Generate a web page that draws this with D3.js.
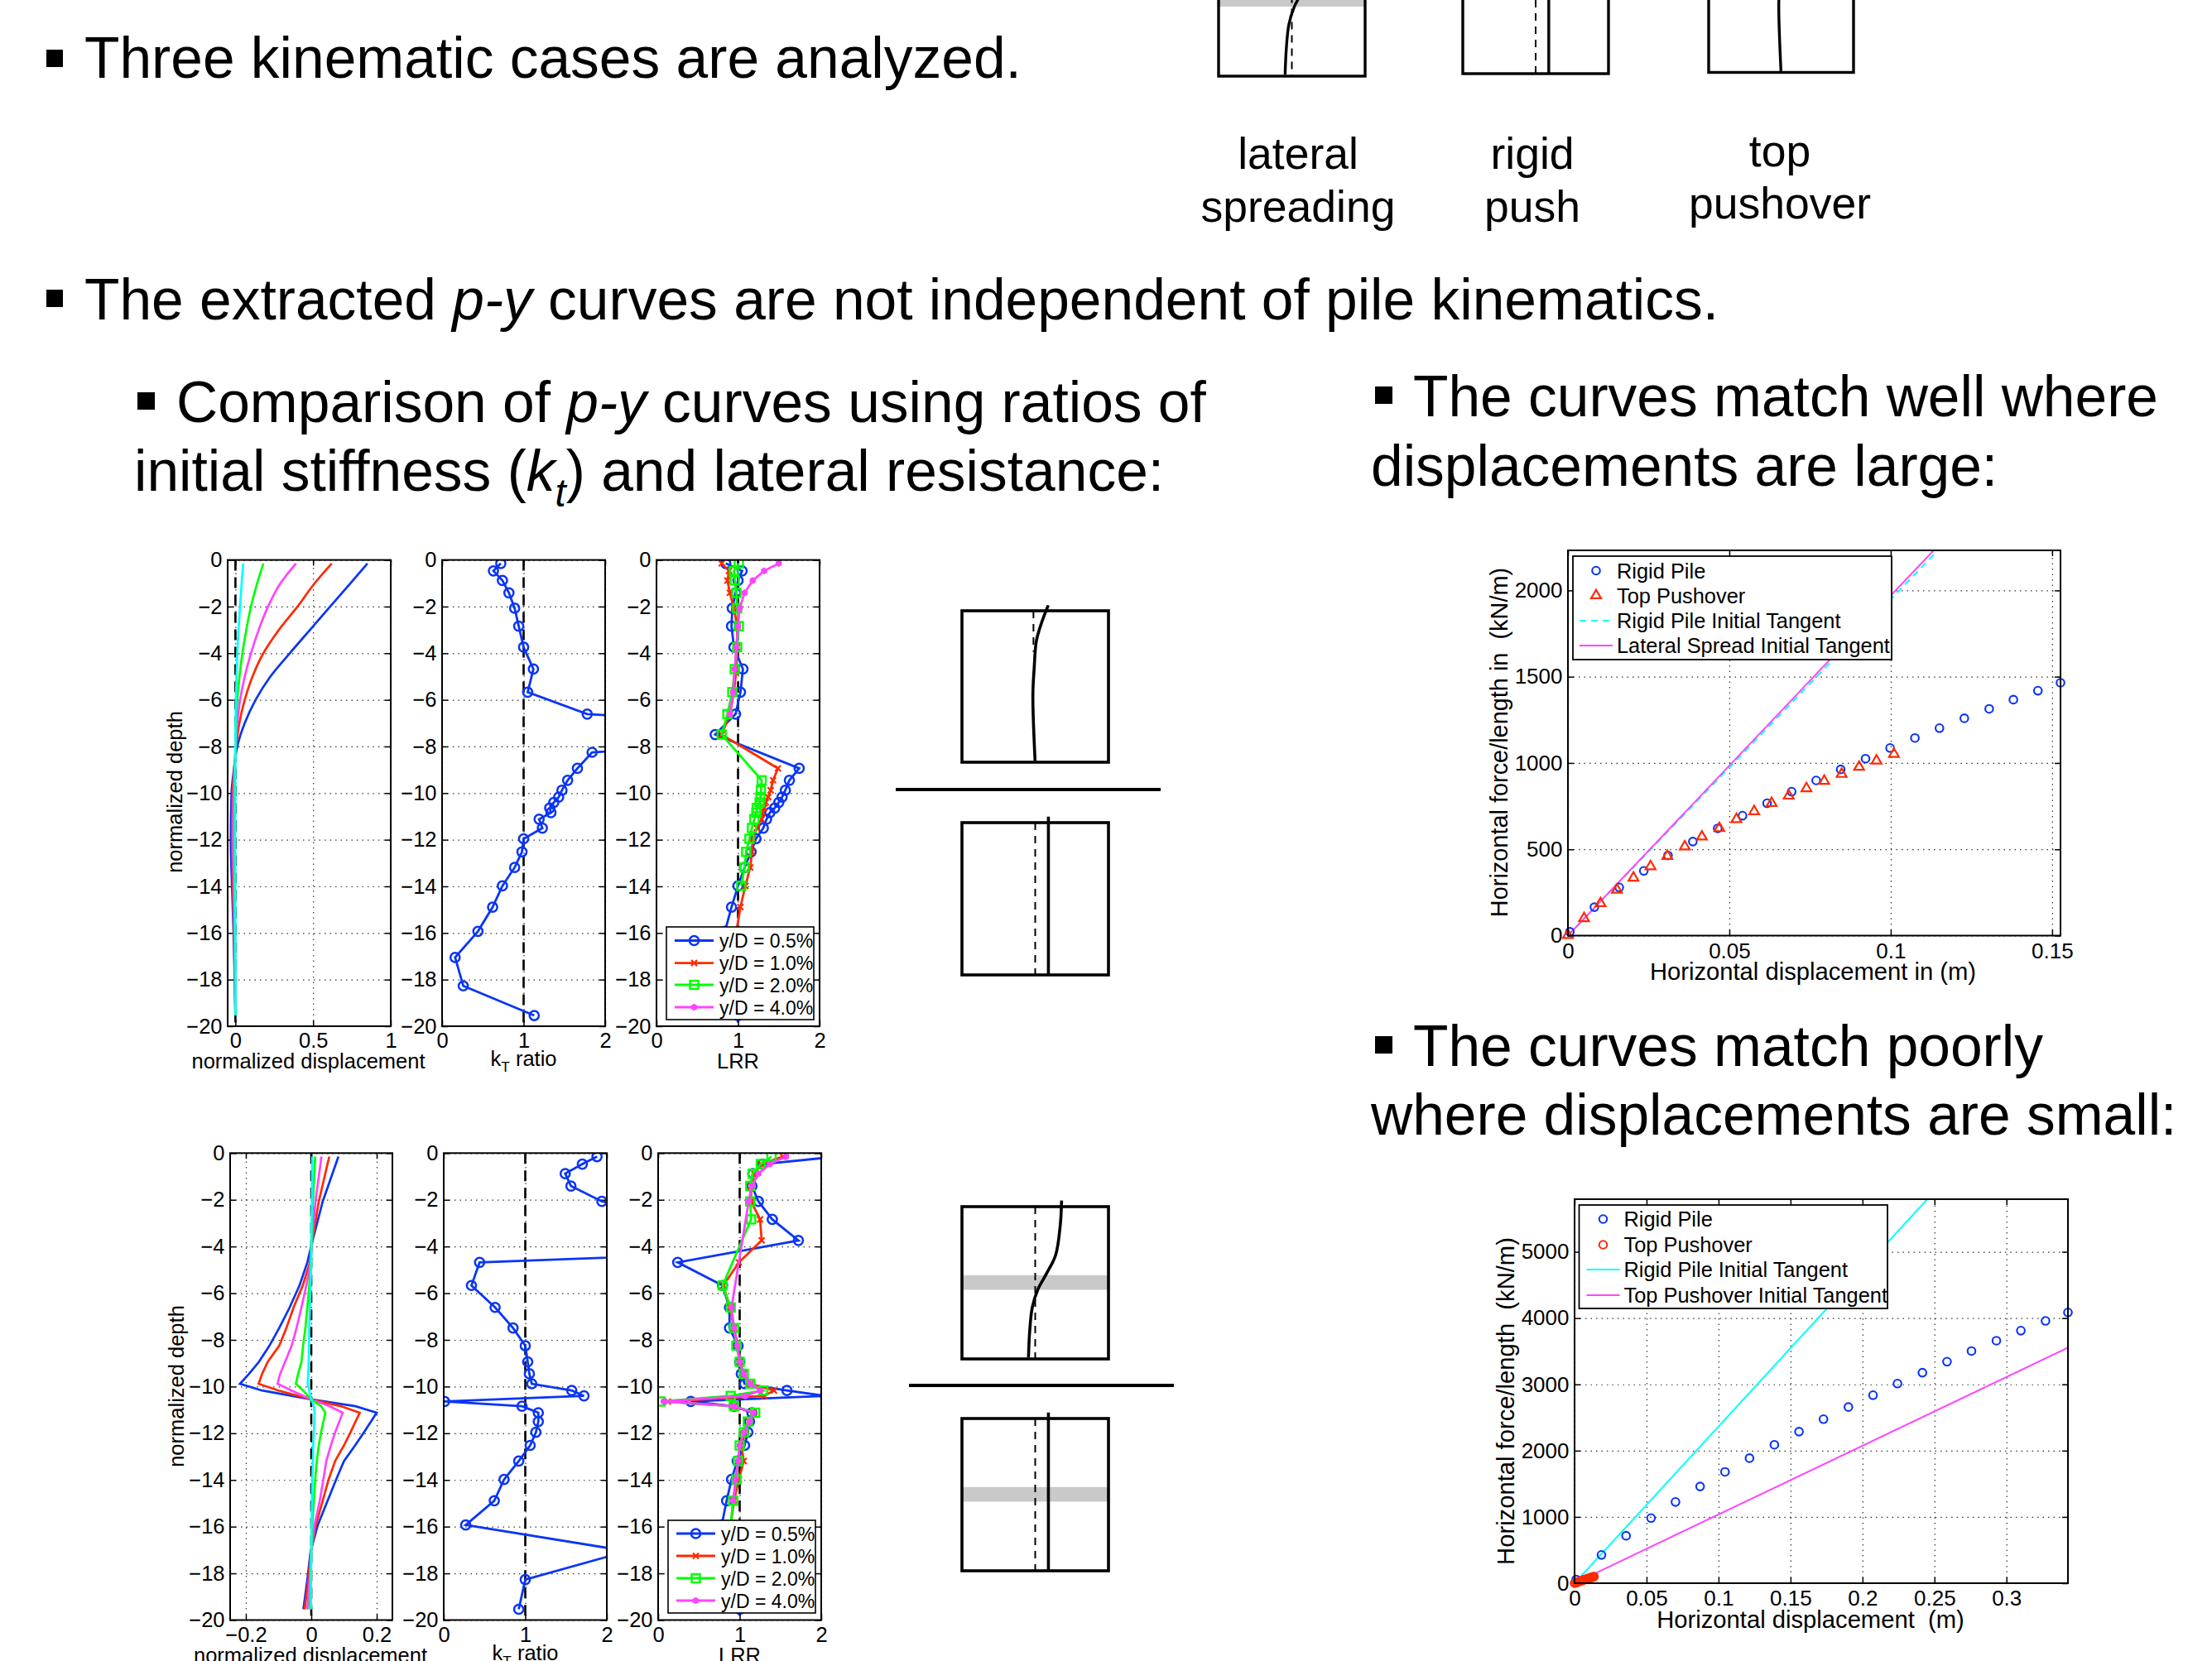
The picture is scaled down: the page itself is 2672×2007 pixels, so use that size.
<!DOCTYPE html>
<html><head><meta charset="utf-8">
<script src="https://d3js.org/d3.v7.min.js"></script>
<style>
html,body{margin:0;padding:0;background:#fff}
svg{display:block}
text{font-family:"Liberation Sans",Arial,sans-serif;fill:#000;white-space:pre}
</style></head><body>
<svg id="c" width="2672" height="2007"></svg>
<script>
// ---------- DATA ----------
const levels=[.15,.47,.88,1.41,2.07,2.84,3.74,4.68,5.67,6.61,7.49,8.25,8.94,9.45,9.88,10.17,10.4,10.64,10.84,11.12,11.5,11.96,12.52,13.19,13.98,14.89,15.93,17.05,18.27,19.54];
const N=null;
const kt1=[.72,.63,.74,.82,.89,.94,1.0,1.12,1.05,1.78,6,1.84,1.66,1.54,1.47,1.43,1.37,1.32,1.335,1.19,1.23,1.0,.98,.89,.74,.62,.44,.16,.26,1.13];
const kt2=[1.88,1.70,1.49,1.56,1.94,3,7.8,.44,.34,.63,.85,1.0,1.03,1.05,1.08,1.57,1.72,.01,.96,1.16,1.16,1.13,1.06,.92,.74,.62,.27,2.25,1.0,.92];
const lrr1Blue=[.85,1.05,1.0,.97,.93,.92,.95,1.06,1.03,.97,.72,N,1.75,1.63,1.58,1.54,1.50,1.45,1.39,1.35,1.31,1.22,1.16,1.08,1.0,.92,.84,.8,.9,1.0];
const lrr1Red=[.80,.89,.87,.90,.95,.99,.99,.98,.95,.90,.80,N,1.49,1.43,1.40,1.37,1.34,1.32,1.30,1.29,1.23,1.18,1.17,1.15,1.09,1.03,.98,1,1,1];
const lrr1Green=[1.01,.95,.96,.98,.99,1.01,.99,.96,.93,.87,.80,N,N,1.29,1.28,1.275,1.265,1.23,1.225,1.20,1.17,1.14,1.10,1.08,1.04,N,N,N,N,N];
const lrr1Mag=[1.50,1.32,1.18,1.08,1.02,1.0,.98,.96,.94,.90,N,N,N,N,N,N,N,N,N,N,N,N,N,N,N,N,N,N,N,N];
const lrr2Blue=[2.2,1.28,1.16,1.15,1.23,1.40,1.72,.24,.79,.875,.875,.98,1.0,1.02,1.06,1.58,2.05,.40,.93,1.15,1.12,1.10,1.06,.97,.90,.84,.78,.8,.9,1.0];
const lrr2Red=[1.53,1.26,1.18,1.14,1.14,1.25,1.27,.99,.80,.88,.93,.98,1.0,1.05,1.13,1.42,1.30,.12,.93,1.17,1.11,1.07,1.02,1.05,.99,.93,.89,N,N,N];
const lrr2Green=[1.39,1.26,1.16,1.13,1.13,1.14,N,N,.79,.89,.93,.96,1.0,1.05,1.13,1.29,.89,.03,.93,1.19,1.10,1.05,1.0,.98,.96,.92,.89,N,N,N];
const lrr2Mag=[1.57,1.37,1.23,1.15,1.11,N,N,N,N,.9,.93,.97,1.0,1.05,1.13,1.25,1.07,.07,.93,1.17,1.12,1.05,1.0,.98,.95,.92,N,N,N,N];

const disp1Depth=[.15,1,2,3,4,5,6,7,8,9,10,12,14,16,18,19.54];
const d1Blue=[.85,.74,.61,.48,.35,.225,.13,.06,.012,-.01,-.025,-.03,-.022,-.012,-.005,0];
const d1Red=[.62,.51,.40,.28,.18,.11,.06,.025,.005,-.008,-.018,-.022,-.016,-.009,-.003,0];
const d1Mag=[.39,.29,.21,.15,.10,.06,.03,.012,.002,-.006,-.012,-.015,-.011,-.006,-.002,0];
const d1Green=[.18,.14,.10,.07,.045,.026,.012,.004,0,-.003,-.006,-.007,-.005,-.003,-.001,0];
const d1Cyan=[.05,.04,.03,.02,.012,.007,.003,.001,0,-.001,-.001,-.002,-.001,-.001,0,0];

const disp2Depth=[.15,2.07,3.74,4.68,5.67,6.61,7.49,8.25,8.94,9.45,9.88,10.17,10.55,10.84,11.12,11.96,12.52,13.19,13.98,14.89,15.93,17.05,18.27,19.54];
const d2Blue=[.083,.035,.004,-.012,-.036,-.066,-.098,-.128,-.16,-.19,-.218,-.15,0,.135,.2,.161,.134,.10,.076,.05,.02,-.002,-.012,-.024];
const d2Red=[.055,.023,.003,-.004,-.026,-.054,-.076,-.098,-.133,-.15,-.161,-.10,0,.09,.148,.12,.10,.073,.053,.035,.014,-.001,-.009,-.02];
const d2Mag=[.031,.013,.002,-.002,-.015,-.03,-.045,-.06,-.08,-.095,-.103,-.06,0,.055,.096,.073,.06,.046,.037,.026,.01,0,-.005,-.012];
const d2Green=[.012,.005,.001,-.001,-.006,-.012,-.018,-.025,-.03,-.04,-.047,-.025,0,.03,.043,.03,.023,.017,.012,.008,.003,0,-.002,-.005];
const d2Cyan=[.003,.002,0,0,-.002,-.004,-.006,-.007,-.008,-.009,-.011,-.006,0,.008,.01,.008,.006,.005,.003,.002,.001,0,-.001,-.001];

const rigidX=[.0006,.0082,.0159,.0235,.031,.0387,.0464,.0541,.0617,.0693,.0769,.0845,.0922,.0998,.1075,.1151,.1228,.1305,.138,.1456,.1526];
const rigidY=[22,165,279,375,464,545,621,695,767,834,899,963,1025,1087,1145,1202,1259,1314,1367,1419,1465];
const topX=[0,.005,.0101,.0152,.0203,.0256,.0308,.0362,.0415,.0469,.0522,.0577,.0631,.0684,.0739,.0794,.0848,.0902,.0956,.101];
const topY=[3,100,187,265,335,401,461,516,573,622,674,720,767,810,853,896,936,977,1013,1052];
const tanCyanX=[0,.1146],tanCyanY=[0,2232],tanMagX=[0,.1133],tanMagY=[0,2232];

const rigid2X=[.0011,.0187,.0358,.0531,.0701,.0872,.1045,.1215,.1388,.1559,.1729,.1902,.2073,.2243,.2416,.2587,.2757,.293,.31,.3271,.3427];
const rigid2Y=[55,427,716,983,1226,1460,1680,1887,2089,2287,2475,2658,2837,3012,3177,3343,3503,3659,3811,3958,4086];
const top2X=[0,.001,.002,.003,.004,.005,.006,.007,.008,.009,.01,.011,.012,.0125,.013,.0135];
const top2Y=[0,8,16,24,32,40,48,55,62,69,76,83,90,94,97,100];
const tan2CyanX=[0,.245],tan2CyanY=[0,5794],tan2MagX=[0,.3427],tan2MagY=[0,3553];

const depthTicks=[0,-2,-4,-6,-8,-10,-12,-14,-16,-18,-20];
const seriesLabels=["y/D = 0.5%","y/D = 1.0%","y/D = 2.0%","y/D = 4.0%"];
const pileSpreadX=[.68,.671,.639,.574,.518,.48,.462,.454], pileSpreadY=[-.04,.12,.319,.445,.544,.661,.823,.99];
const pileTopX=[.589,.546,.508,.493,.484,.499], pileTopY=[-.036,.072,.198,.378,.559,.991];

const BLUE="#0a35f5",RED="#ff2a00",GREEN="#00ff00",MAG="#ff44ff",CYAN="#00ffff";
// ---------- HELPERS ----------
const svg=d3.select("#c");
let clipId=0;
function frame(box,xd,yd,xticks,yticks,fs,fmtX,xgap){
  const g=svg.append("g");
  const x=d3.scaleLinear().domain(xd).range([box.x0,box.x1]);
  const y=d3.scaleLinear().domain(yd).range([box.y1,box.y0]);
  const w=box.x1-box.x0,h=box.y1-box.y0;
  const gx=g.append("g").attr("transform",`translate(0,${box.y1})`)
    .call(d3.axisBottom(x).tickValues(xticks).tickSize(-h).tickFormat(""));
  const gy=g.append("g").attr("transform",`translate(${box.x0},0)`)
    .call(d3.axisLeft(y).tickValues(yticks).tickSize(-w).tickFormat(""));
  [gx,gy].forEach(a=>{a.select(".domain").remove();
    a.selectAll("line").attr("stroke","#333").attr("stroke-width",1.2).attr("stroke-dasharray","1.5 5");});
  const sz=7;
  const ax=[d3.axisBottom(x).tickValues(xticks).tickSize(-sz).tickPadding(sz+xgap).tickFormat(fmtX||(d=>String(d))),
    d3.axisTop(x).tickValues(xticks).tickSize(-sz).tickFormat("")];
  const ay=[d3.axisLeft(y).tickValues(yticks).tickSize(-sz).tickPadding(6.5).tickFormat(d=>d<0?"\u2212"+(-d):String(d)),
    d3.axisRight(y).tickValues(yticks).tickSize(-sz).tickFormat("")];
  const mk=(a,t)=>{const s=g.append("g").attr("transform",t).call(a);
    s.select(".domain").remove();s.selectAll("line").attr("stroke","#000").attr("stroke-width",1.5);
    s.selectAll("text").attr("font-size",fs).style("font-family",'"Liberation Sans"').attr("fill","#000");};
  mk(ax[0],`translate(0,${box.y1})`);mk(ax[1],`translate(0,${box.y0})`);
  mk(ay[0],`translate(${box.x0},0)`);mk(ay[1],`translate(${box.x1},0)`);
  const id="cp"+(clipId++);
  svg.append("clipPath").attr("id",id).append("rect").attr("x",box.x0).attr("y",box.y0).attr("width",w).attr("height",h);
  const plot=svg.append("g").attr("clip-path",`url(#${id})`);
  return {x,y,plot,box};
}
function border(box){
  svg.append("rect").attr("x",box.x0).attr("y",box.y0).attr("width",box.x1-box.x0).attr("height",box.y1-box.y0)
    .attr("fill","none").attr("stroke","#000").attr("stroke-width",2);
}
function marker(sel,kind,color,px,py,scale){
  const k=scale||1;
  const g=sel.append("g").attr("transform",`translate(${px},${py})`);
  if(kind==="o") g.append("circle").attr("r",5.6*k).attr("fill","none").attr("stroke",color).attr("stroke-width",2.5*k);
  if(kind==="x") g.append("path").attr("d",d3.symbol().type(d3.symbolTimes).size(34)()).attr("fill","none").attr("stroke",color).attr("stroke-width",2.2);
  if(kind==="s") g.append("rect").attr("x",-5).attr("y",-5).attr("width",10).attr("height",10).attr("fill","none").attr("stroke",color).attr("stroke-width",2.4);
  if(kind==="*"){g.append("circle").attr("r",3.6).attr("fill",color);
    g.append("path").attr("d",d3.symbol().type(d3.symbolAsterisk).size(44)()).attr("fill","none").attr("stroke",color).attr("stroke-width",2);}
  if(kind==="t") g.append("path").attr("d",d3.symbol().type(d3.symbolTriangle).size(62)()).attr("fill","none").attr("stroke",color).attr("stroke-width",2.2);
}
function series(f,xs,ys,color,kind,sw,dash,curve){
  const pts=xs.map((v,i)=>[v,ys[i]]).filter(p=>p[0]!=null&&p[1]!=null);
  if(sw) {const ln=d3.line().x(d=>f.x(d[0])).y(d=>f.y(d[1]));
    if(curve) ln.curve(curve);
    f.plot.append("path").datum(pts).attr("d",ln)
    .attr("fill","none").attr("stroke",color).attr("stroke-width",sw).attr("stroke-dasharray",dash||null);}
  if(kind) pts.forEach(p=>marker(f.plot,kind,color,f.x(p[0]),f.y(p[1])));
}
function vdash(f,v){
  f.plot.append("line").attr("x1",f.x(v)).attr("x2",f.x(v)).attr("y1",f.box.y0).attr("y2",f.box.y1)
    .attr("stroke","#000").attr("stroke-width",2.6).attr("stroke-dasharray","13 8");
}
function txt(x,y,s,fs,anchor,rot){
  const t=svg.append("text").attr("font-size",fs).attr("text-anchor",anchor||"start")
    .attr("transform",`translate(${x},${y})`+(rot?` rotate(${rot})`:""));
  (Array.isArray(s)?s:[[s]]).forEach(p=>{
    const sp=t.append("tspan").text(p[0]);
    if(p[1]==="i") sp.attr("font-style","italic");
    if(p[1]==="sub") sp.attr("font-size",fs*.68).attr("dy",fs*.28);
    if(p[1]==="subi") sp.attr("font-size",fs*.68).attr("dy",fs*.28).attr("font-style","italic");
    if(p[1]==="up") sp.attr("dy",-fs*.28);
  });
  return t;
}
function depthPanels(row){
  const {y0,y1,xs,ds,dom,dticks,kt,lrr,leg,ylx,yly,xlb,tickGap,smooth}=row;
  const neg=levels.map(d=>-d);
  const FS=25.5;
  const p1=frame({x0:xs[0][0],x1:xs[0][1],y0,y1},dom,[-20,0],dticks,depthTicks,FS,d=>d<0?"\u2212"+(-d):String(d),tickGap);
  vdash(p1,0);
  ds.vals.forEach((v,i)=>series(p1,v,ds.depth.map(d=>-d),[BLUE,RED,MAG,GREEN,CYAN][i],null,2.7,null,smooth));
  border(p1.box);
  const p2=frame({x0:xs[1][0],x1:xs[1][1],y0,y1},[0,2],[-20,0],[0,1,2],depthTicks,FS,null,tickGap);
  vdash(p2,1);
  series(p2,kt,neg,BLUE,"o",2.8);
  border(p2.box);
  const p3=frame({x0:xs[2][0],x1:xs[2][1],y0,y1},[0,2],[-20,0],[0,1,2],depthTicks,FS,null,tickGap);
  vdash(p3,1);
  series(p3,lrr[0],neg,BLUE,"o",2.8);
  series(p3,lrr[1],neg,RED,"x",2.8);
  series(p3,lrr[2],neg,GREEN,"s",2.8);
  series(p3,lrr[3],neg,MAG,"*",2.8);
  border(p3.box);
  svg.append("rect").attr("x",leg.x0).attr("y",leg.y0).attr("width",leg.x1-leg.x0).attr("height",leg.y1-leg.y0)
    .attr("fill","#fff").attr("stroke","#000").attr("stroke-width",1.6);
  [[BLUE,"o"],[RED,"x"],[GREEN,"s"],[MAG,"*"]].forEach((c,i)=>{
    const yy=leg.rows[i];
    svg.append("line").attr("x1",leg.x0+10).attr("x2",leg.x0+57).attr("y1",yy).attr("y2",yy).attr("stroke",c[0]).attr("stroke-width",2.8);
    marker(svg,c[1],c[0],leg.x0+33.5,yy);
    txt(leg.x0+64,yy+8.5,seriesLabels[i],23);
  });
  txt(ylx,yly,"normalized depth",FS,"middle",-90);
  const cx=d=>(xs[d][0]+xs[d][1])/2;
  txt(cx(0)-1,xlb,"normalized displacement",FS,"middle");
  txt(cx(1),xlb-3,[["k"],["T","sub"],[" ratio","up"]],FS,"middle");
  txt(cx(2),xlb,"LRR",FS,"middle");
}
// ---------- BODY TEXT ----------
const BODY=69.5;
function bullet(x0,x1,y0,y1){svg.append("rect").attr("x",x0).attr("y",y0).attr("width",x1-x0).attr("height",y1-y0).attr("fill","#000");}
bullet(56,76,60,81);
txt(102,94,"Three kinematic cases are analyzed.",BODY);
bullet(56,76,350,371);
txt(102,385.5,[["The extracted "],["p-y","i"],[" curves are not independent of pile kinematics."]],BODY);
bullet(166,187,474,495);
txt(213,509.5,[["Comparison of "],["p-y","i"],[" curves using ratios of"]],BODY);
txt(162,593,[["initial stiffness ("],["k","i"],["t","subi"],[")","up"],[" and lateral resistance:"]],BODY);
bullet(1661,1682,467,488);
txt(1707,503,"The curves match well where",BODY);
txt(1656,587,"displacements are large:",BODY);
bullet(1661,1682,1252,1273);
txt(1707,1288,"The curves match poorly",BODY);
txt(1656,1371,"where displacements are small:",BODY);
[[1568,204,"lateral"],[1568,268,"spreading"],[1851,204,"rigid"],[1851,268,"push"],[2150,201,"top"],[2150,264,"pushover"]]
 .forEach(d=>txt(d[0],d[1],d[2],53.5,"middle"));

// ---------- SCHEMATICS ----------
function schem(x0,x1,y0,y1,o){
  const fx=d3.scaleLinear().domain([0,1]).range([x0,x1]);
  const fy=d3.scaleLinear().domain([0,1]).range([y0,y1]);
  const sw=o.sw||3.6;
  if(o.band) svg.append("rect").attr("x",fx(0)).attr("width",fx(1)-fx(0)).attr("y",fy(.45)).attr("height",fy(.546)-fy(.45)).attr("fill","#c9c9c9");
  svg.append("line").attr("x1",fx(o.dash[0])).attr("x2",fx(o.dash[0])).attr("y1",fy(o.dash[1])).attr("y2",fy(o.dash[2]))
    .attr("stroke","#000").attr("stroke-width",2).attr("stroke-dasharray","9 7");
  const pts=o.px.map((v,i)=>[v,o.py[i]]);
  svg.append("path").datum(pts).attr("d",d3.line().curve(d3.curveCatmullRom).x(d=>fx(d[0])).y(d=>fy(d[1])))
    .attr("fill","none").attr("stroke","#000").attr("stroke-width",sw);
  svg.append("rect").attr("x",x0).attr("y",y0).attr("width",x1-x0).attr("height",y1-y0)
    .attr("fill","none").attr("stroke","#000").attr("stroke-width",sw);
}
const rigidPx=[.59,.59],rigidPy=[-.04,1];
schem(1472,1649,-93,92,{band:1,dash:[.5,.3,1],px:pileSpreadX,py:pileSpreadY,sw:3.4});
schem(1767,1943,-96,89,{dash:[.5,0,1],px:rigidPx,py:rigidPy,sw:3.4});
schem(2064,2239,-98,87.5,{dash:[.488,.1,.1],px:pileTopX,py:pileTopY,sw:3.4});
schem(1162,1339,738,921,{dash:[.488,0,.27],px:pileTopX,py:pileTopY});
schem(1162,1339,994,1178,{dash:[.5,0,1],px:rigidPx,py:rigidPy});
schem(1162,1339,1458,1642,{band:1,dash:[.5,0,1],px:pileSpreadX,py:pileSpreadY});
schem(1162,1339,1714,1898,{band:1,dash:[.5,0,1],px:rigidPx,py:rigidPy});
[[1082,1402,954],[1098,1418,1674]].forEach(d=>svg.append("line").attr("x1",d[0]).attr("x2",d[1]).attr("y1",d[2]).attr("y2",d[2]).attr("stroke","#000").attr("stroke-width",3.8));

// ---------- DEPTH PANELS ----------
depthPanels({y0:676.6,y1:1240,xs:[[275,472],[534,731],[793,990]],smooth:d3.curveMonotoneY,
  ds:{depth:disp1Depth,vals:[d1Blue,d1Red,d1Mag,d1Green,d1Cyan]},dom:[-.05,1],dticks:[0,.5,1],
  kt:kt1,lrr:[lrr1Blue,lrr1Red,lrr1Green,lrr1Mag],
  leg:{x0:805,x1:983,y0:1120,y1:1232,rows:[1136.5,1163.6,1190,1217]},ylx:220,yly:957,xlb:1291,tickGap:1});
depthPanels({y0:1393.3,y1:1957.5,xs:[[278,474],[536,733],[795,992]],
  ds:{depth:disp2Depth,vals:[d2Blue,d2Red,d2Mag,d2Green,d2Cyan]},dom:[-.248,.248],dticks:[-.2,0,.2],
  kt:kt2,lrr:[lrr2Blue,lrr2Red,lrr2Green,lrr2Mag],
  leg:{x0:807,x1:985,y0:1837,y1:1949,rows:[1853,1880,1907,1934]},ylx:222,yly:1675,xlb:2009,tickGap:1});

// ---------- FORCE-DISPLACEMENT ----------
function legendXY(l,items){
  svg.append("rect").attr("x",l.x0).attr("y",l.y0).attr("width",l.x1-l.x0).attr("height",l.y1-l.y0)
    .attr("fill","#fff").attr("stroke","#000").attr("stroke-width",1.8);
  items.forEach((it,i)=>{
    const yy=l.rows[i];
    if(it.kind) marker(svg,it.kind,it.color,l.sx+20,yy,.85);
    else svg.append("line").attr("x1",l.sx).attr("x2",l.sx+40).attr("y1",yy).attr("y2",yy)
      .attr("stroke",it.color).attr("stroke-width",2).attr("stroke-dasharray",it.dash||null);
    txt(l.sx+45,yy+9,it.label,25.4);
  });
}
const f1=frame({x0:1894,x1:2489,y0:665,y1:1130.5},[0,.1526],[0,2232],[0,.05,.1,.15],[0,500,1000,1500,2000],26,null,2);
series(f1,tanCyanX,tanCyanY,CYAN,null,2,"8 6");
series(f1,tanMagX,tanMagY,MAG,null,2);
rigidX.forEach((v,i)=>marker(svg,"o",BLUE,f1.x(v),f1.y(rigidY[i]),.85));
topX.forEach((v,i)=>marker(svg,"t",RED,f1.x(v),f1.y(topY[i])));
border(f1.box);
legendXY({x0:1900,x1:2285,y0:672,y1:797,rows:[689.5,719.5,750,780],sx:1908},[
 {kind:"o",color:BLUE,label:"Rigid Pile"},{kind:"t",color:RED,label:"Top Pushover"},
 {color:CYAN,dash:"8 6",label:"Rigid Pile Initial Tangent"},{color:MAG,label:"Lateral Spread Initial Tangent"}]);
txt(2190,1184,"Horizontal displacement in (m)",29.2,"middle");
txt(1821,897,"Horizontal force/length in  (kN/m)",28.9,"middle",-90);

const f2=frame({x0:1902,x1:2498,y0:1449,y1:1913},[0,.3427],[0,5794],[0,.05,.1,.15,.2,.25,.3],[0,1000,2000,3000,4000,5000],26,null,2);
series(f2,tan2CyanX,tan2CyanY,CYAN,null,2);
series(f2,tan2MagX,tan2MagY,MAG,null,2);
rigid2X.forEach((v,i)=>marker(svg,"o",BLUE,f2.x(v),f2.y(rigid2Y[i]),.85));
top2X.forEach((v,i)=>marker(svg,"o",RED,f2.x(v),f2.y(top2Y[i]),.85));
border(f2.box);
legendXY({x0:1907.5,x1:2280,y0:1456,y1:1581,rows:[1473,1504,1534,1565],sx:1916.5},[
 {kind:"o",color:BLUE,label:"Rigid Pile"},{kind:"o",color:RED,label:"Top Pushover"},
 {color:CYAN,label:"Rigid Pile Initial Tangent"},{color:MAG,label:"Top Pushover Initial Tangent"}]);
txt(2187,1967,"Horizontal displacement  (m)",29.2,"middle");
txt(1829,1693,"Horizontal force/length  (kN/m)",29.2,"middle",-90);
</script></body></html>
